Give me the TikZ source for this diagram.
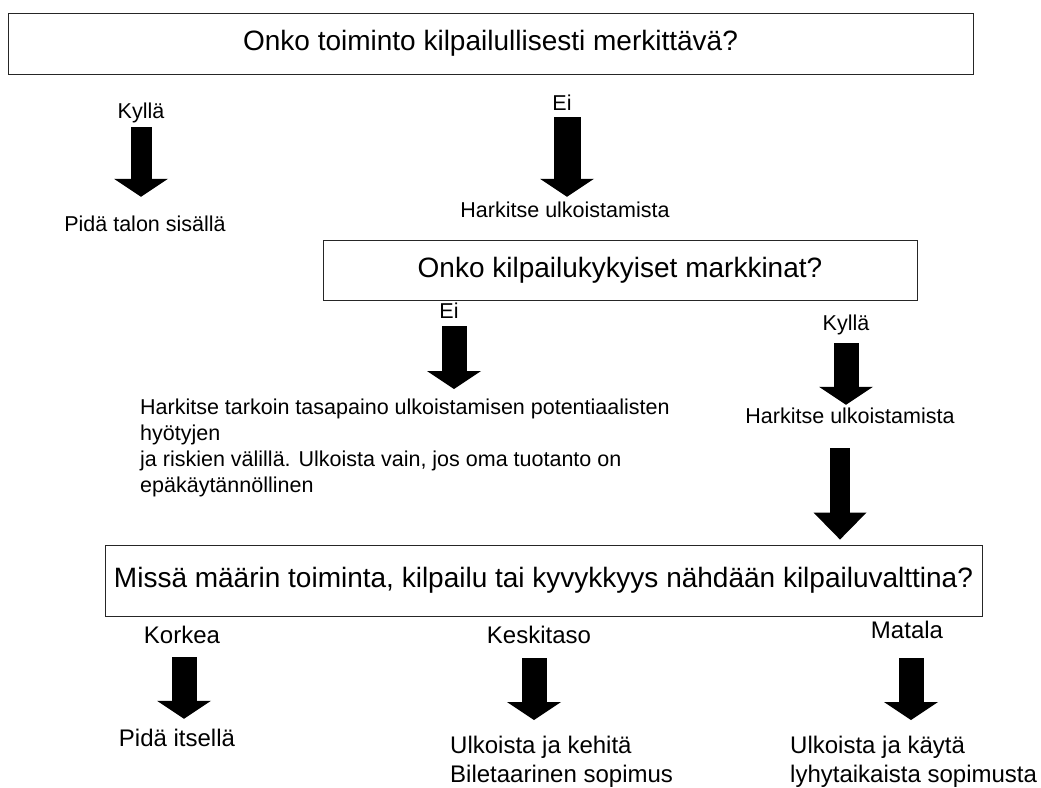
\documentclass[tikz,border=0pt]{standalone}
\usepackage{fontspec}
\setmainfont{Liberation Sans}
\usetikzlibrary{arrows.meta}

\begin{document}
\begin{tikzpicture}[x=1pt, y=-1pt,
  box/.style={draw=black!85, line width=0.9pt, inner sep=0pt, font=\fontsize{28}{33}\selectfont},
  lbl/.style={inner sep=0pt, text height=15.5pt, text depth=4.5pt, font=\fontsize{21.5}{26}\selectfont},
  lblb/.style={inner sep=0pt, text height=17pt, text depth=5pt, font=\fontsize{24}{29}\selectfont},
  txt/.style={inner sep=0pt, anchor=north west, align=left, font=\fontsize{21.5}{26}\selectfont},
  txtb/.style={inner sep=0pt, anchor=north west, align=left, font=\fontsize{24}{29}\selectfont},
  blk/.style={line width=25pt, -{Triangle[width=54pt, length=18pt, line width=0pt]}},
  bigblk/.style={line width=20pt, -{Triangle[width=53pt, length=27pt, line width=0pt]}}]
  \useasboundingbox (0,0) rectangle (1041,787);
  % first question
  \node[box, minimum width=965pt, minimum height=61pt] (q1) at (490.5,43.5) {Onko toiminto kilpailullisesti merkittävä?};
  \node[lbl] (y1) at (141,113) {Kyllä};
  \node[lbl] (n1) at (562,105) {Ei};
  \node[lbl] (r1) at (145,226) {Pidä talon sisällä};
  \node[lbl] (r2) at (565,212) {Harkitse ulkoistamista};
  \draw[blk, line width=21pt, shorten <=4pt, shorten >=19pt] (y1.south) -- (y1.south |- r1.north);
  \draw[blk, line width=27pt, shorten <=2pt, shorten >=5pt] ([xshift=5pt]n1.south) -- ([xshift=5pt]n1.south |- r2.north);
  % second question
  \node[box, minimum width=594pt, minimum height=60pt] (q2) at (620,270) {Onko kilpailukykyiset markkinat?};
  \node[lbl] (n2) at (449,313) {Ei};
  \node[lbl] (y2) at (846,325) {Kyllä};
  \node[txt] (lt) at (140,399) {Harkitse tarkoin tasapaino ulkoistamisen potentiaalisten\\hyötyjen\\ja riskien välillä. Ulkoista vain, jos oma tuotanto on\\epäkäytännöllinen};
  \node[lbl] (r3) at (850,418) {Harkitse ulkoistamista};
  \draw[blk, shorten <=3pt, shorten >=10pt] ([xshift=5pt]n2.south) -- ([xshift=5pt]n2.south |- lt.north);
  \draw[blk, shorten <=8pt, shorten >=3pt] (y2.south) -- (y2.south |- r3.north);
  % third question
  \node[box, minimum width=877pt, minimum height=71pt] (q3) at (543.5,580.5) {Missä määrin toiminta, kilpailu tai kyvykkyys nähdään kilpailuvalttina?};
  \draw[bigblk, shorten <=20pt, shorten >=5pt] ([xshift=-10pt]r3.south) -- ([xshift=-10pt]r3.south |- q3.north);
  \node[lblb] (k1) at (182,637) {Korkea};
  \node[lblb] (k2) at (539,637) {Keskitaso};
  \node[lblb] (k3) at (907,632) {Matala};
  \node[lblb] (p1) at (177,740) {Pidä itsellä};
  \node[txtb] (o1) at (450,736) {Ulkoista ja kehitä\\Biletaarinen sopimus};
  \node[txtb] (o2) at (790,736) {Ulkoista ja käytä\\lyhytaikaista sopimusta};
  \draw[blk, shorten <=9pt, shorten >=10pt] ([xshift=2pt]k1.south) -- ([xshift=2pt]k1.south |- p1.north);
  \draw[blk, shorten <=10pt, shorten >=16pt] ([xshift=-5pt]k2.south) -- ([xshift=-5pt]k2.south |- o1.north);
  \draw[blk, shorten <=15pt, shorten >=16pt] ([xshift=4pt]k3.south) -- ([xshift=4pt]k3.south |- o2.north);
\end{tikzpicture}
\end{document}
